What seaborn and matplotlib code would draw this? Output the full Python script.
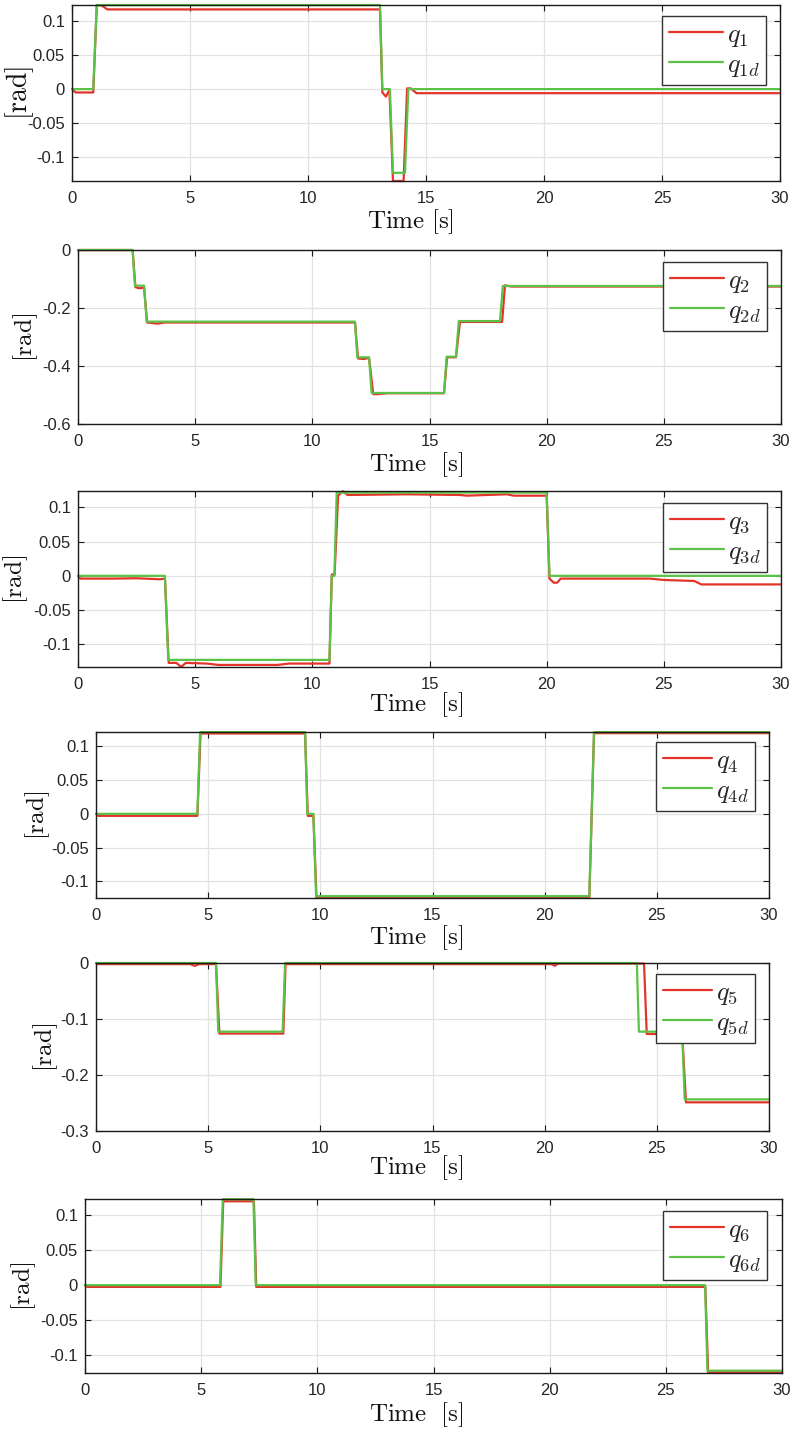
import matplotlib
matplotlib.use("Agg")
import matplotlib.pyplot as plt
import seaborn as sns
import pandas as pd
from matplotlib.ticker import FuncFormatter

# joint 1
t_q1 = [0, 0.15, 0.9, 1.05, 1.25, 1.5, 13.05, 13.15, 13.3, 13.45, 13.6, 14.05, 14.2, 14.35, 14.6, 30]
v_q1 = [0, -0.005, -0.005, 0.1235, 0.123, 0.117, 0.117, -0.005, -0.011, -0.001, -0.135, -0.135, 0.001, 0.001, -0.006, -0.006]
t_q1d = [0, 0.9, 1.05, 13.05, 13.15, 13.47, 13.6, 14.11, 14.25, 30]
v_q1d = [0, 0, 0.1235, 0.1235, 0, 0, -0.123, -0.123, 0, 0]

# joint 2
t_q2 = [0, 2.33, 2.45, 2.6, 2.82, 2.95, 3.4, 3.7, 11.82, 11.95, 12.2, 12.42, 12.6, 12.8, 13.2,
        15.62, 15.75, 16.13, 16.3, 18.1, 18.22, 18.5, 30]
v_q2 = [0, 0, -0.128, -0.132, -0.13, -0.25, -0.254, -0.25, -0.25, -0.374, -0.376, -0.372, -0.497, -0.497, -0.494,
        -0.494, -0.37, -0.37, -0.248, -0.248, -0.122, -0.126, -0.126]
t_q2d = [0, 2.33, 2.43, 2.82, 2.93, 11.82, 11.92, 12.42, 12.53, 15.62, 15.73, 16.13, 16.25, 18.01, 18.13, 30]
v_q2d = [0, 0, -0.123, -0.123, -0.247, -0.247, -0.370, -0.370, -0.493, -0.493, -0.368, -0.368, -0.245, -0.245, -0.124, -0.124]

# joint 3
t_q3 = [0, 0.1, 1.5, 2.5, 3.5, 3.71, 3.87, 4.2, 4.4, 4.6, 5.5, 6.0, 8.5, 9.0, 10.73, 10.83, 10.95, 11.1, 11.3, 11.5,
        14, 16.3, 16.6, 18.3, 18.6, 20.0, 20.12, 20.3, 20.45, 20.6, 24.4, 25.0, 26.3, 26.6, 30]
v_q3 = [0, -0.004, -0.004, -0.0035, -0.005, -0.004, -0.127, -0.127, -0.133, -0.127, -0.128, -0.130, -0.130, -0.128,
        -0.128, 0.002, 0.002, 0.117, 0.1235, 0.118, 0.119, 0.118, 0.117, 0.119, 0.117, 0.117, -0.004, -0.010, -0.010,
        -0.004, -0.004, -0.006, -0.0075, -0.0125, -0.0125]
t_q3d = [0, 3.71, 3.85, 10.73, 10.83, 10.94, 11.04, 20.0, 20.12, 30]
v_q3d = [0, 0, -0.1226, -0.1226, 0, 0, 0.1215, 0.1215, 0, 0]

# joint 4
t_q4 = [0, 0.1, 4.52, 4.66, 9.32, 9.44, 9.69, 9.83, 21.99, 22.2, 30]
v_q4 = [0, -0.003, -0.003, 0.119, 0.119, -0.003, -0.003, -0.1245, -0.1245, 0.1195, 0.1195]
t_q4d = [0, 4.52, 4.64, 9.32, 9.42, 9.69, 9.81, 21.99, 22.2, 30]
v_q4d = [0, 0, 0.121, 0.121, 0, 0, -0.122, -0.122, 0.121, 0.121]

# joint 5
t_q5 = [0, 0.1, 4.2, 4.4, 4.6, 5.35, 5.5, 8.35, 8.45, 20.3, 20.45, 20.6, 24.43, 24.55, 26.13, 26.3, 30]
v_q5 = [0, -0.002, -0.002, -0.005, -0.002, -0.002, -0.126, -0.126, -0.002, -0.002, -0.005, -0.001, -0.001,
        -0.1268, -0.1268, -0.2488, -0.2488]
t_q5d = [0, 5.35, 5.45, 8.32, 8.43, 24.11, 24.2, 26.13, 26.24, 30]
v_q5d = [0, 0, -0.1226, -0.1226, 0, 0, -0.1226, -0.1226, -0.2435, -0.2435]

# joint 6
t_q6 = [0, 0.1, 5.83, 5.95, 7.27, 7.37, 26.7, 26.82, 30]
v_q6 = [0, -0.0025, -0.0025, 0.1195, 0.1195, -0.0025, -0.0025, -0.1242, -0.1242]
t_q6d = [0, 5.81, 5.93, 7.25, 7.35, 26.69, 26.79, 30]
v_q6d = [0, 0, 0.1225, 0.1225, 0, 0, -0.1219, -0.1219]

x_ticks = [0, 5, 10, 15, 20, 25, 30]
y_small = [-0.1, -0.05, 0, 0.05, 0.1]

panels = [
    (t_q1, v_q1, t_q1d, v_q1d, (-0.135, 0.1235), y_small),
    (t_q2, v_q2, t_q2d, v_q2d, (-0.6, 0), [-0.6, -0.4, -0.2, 0]),
    (t_q3, v_q3, t_q3d, v_q3d, (-0.133, 0.1238), y_small),
    (t_q4, v_q4, t_q4d, v_q4d, (-0.1247, 0.1212), y_small),
    (t_q5, v_q5, t_q5d, v_q5d, (-0.3, 0), [-0.3, -0.2, -0.1, 0]),
    (t_q6, v_q6, t_q6d, v_q6d, (-0.1252, 0.1228), y_small),
]

# axes boxes in pixels: left, top, right, bottom
boxes = [(72, 5, 780, 181), (78, 250, 781, 424), (78, 491, 781, 667),
         (96, 732, 769, 898), (96, 963, 769, 1131), (85, 1199, 782, 1373)]
ylab_off = [-52, -52, -62, -58, -50, -61]
xlab_off = [41, 41, 38, 40, 37, 42]
xlab_x = [410, 416, 416, 416, 416, 416]
leg_xy = [(766, 16), (767, 262), (767, 503), (755, 742), (755, 974), (767, 1211)]
leg_handle = [2.05, 2.05, 2.05, 1.85, 1.85, 2.05]

sns.set_theme(style="whitegrid")
plt.rcParams["font.family"] = ["Liberation Sans", "DejaVu Sans"]
plt.rcParams["mathtext.fontset"] = "cm"
plt.rcParams["axes.unicode_minus"] = False

W, H = 796, 1433
fig = plt.figure(figsize=(W / 100, H / 100), dpi=100)
fig.patch.set_facecolor("white")

red = "#e3342a"
green = "#5cc247"

for i, (t, v, td, vd, ylim, yt) in enumerate(panels):
    l, tp, r, b = boxes[i]
    w, h = r - l, b - tp
    ax = fig.add_axes([l / W, 1 - b / H, w / W, h / H])
    n = i + 1
    df = pd.concat([
        pd.DataFrame({"t": t, "val": v, "s": f"$q_{n}$"}),
        pd.DataFrame({"t": td, "val": vd, "s": f"$q_{{{n}d}}$"}),
    ])
    sns.lineplot(data=df, x="t", y="val", hue="s", palette=[red, green],
                 estimator=None, sort=False, lw=1.6, ax=ax, legend=False)
    for ln in ax.lines:
        ln.set_clip_on(False)
    ax.set_xlim(0, 30)
    ax.set_ylim(*ylim)
    ax.set_xticks(x_ticks)
    ax.set_yticks(yt)
    ax.yaxis.set_major_formatter(FuncFormatter(lambda val, pos: f"{val + 0.0:g}"))
    ax.grid(True, color="#e2e2e2", lw=0.9)
    for sp in ax.spines.values():
        sp.set_color("#1a1a1a")
        sp.set_linewidth(1.0)
    ax.tick_params(direction="in", length=4, width=0.8, colors="#1a1a1a",
                   top=True, right=True, bottom=True, left=True,
                   labelsize=12, labelcolor="#262626")
    ax.tick_params(axis="x", pad=7)
    ax.tick_params(axis="y", pad=5)

    gap = r"\ " if i == 0 else r"\ \ "
    ax.set_xlabel(r"$\mathrm{Time}" + gap + r"[\mathrm{s}]$", fontsize=18, color="#111111", va="center")
    ax.xaxis.set_label_coords((xlab_x[i] - l) / w, -xlab_off[i] / h)
    ax.set_ylabel(r"$[\mathrm{rad}]$", fontsize=20 if i == 0 else 18, color="#111111", va="center")
    ax.yaxis.set_label_coords(ylab_off[i] / w, 0.5)

    lx, ly = leg_xy[i]
    leg = ax.legend(ax.lines[:2], [f"$q_{n}$", f"$q_{{{n}d}}$"],
                    loc="upper right", bbox_to_anchor=((lx - l) / w, 1 - (ly - tp) / h),
                    borderaxespad=0, fontsize=19, handlelength=leg_handle[i], handletextpad=0.15,
                    borderpad=0.25, labelspacing=0.15, fancybox=False, framealpha=1,
                    edgecolor="#333333")
    leg.get_frame().set_linewidth(1.0)

fig.savefig("out.png", dpi=100)
